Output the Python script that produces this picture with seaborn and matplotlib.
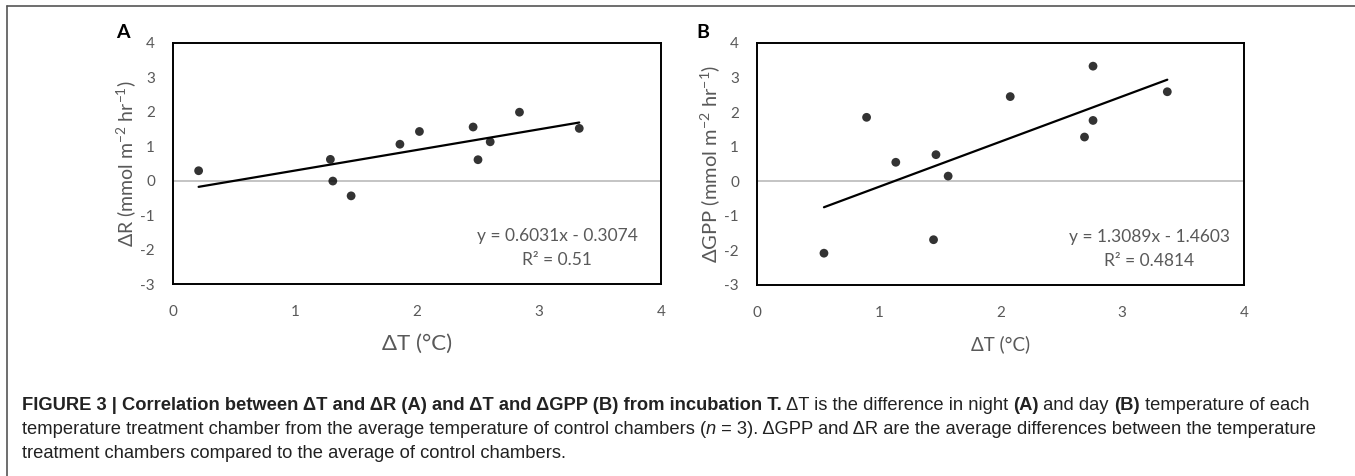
import numpy as np
import matplotlib
matplotlib.use("Agg")
import matplotlib.pyplot as plt
from matplotlib.lines import Line2D
import seaborn as sns

# panel A: dT (night) vs dR
dT_night = [0.21, 1.29, 1.31, 1.46, 1.86, 2.02, 2.46, 2.50, 2.60, 2.84, 3.33]
dR = [0.29, 0.62, -0.01, -0.44, 1.06, 1.43, 1.56, 0.61, 1.13, 1.99, 1.52]
eq_A = ["y = 0.6031x - 0.3074", "R² = 0.51"]

# panel B: dT (day) vs dGPP
dT_day = [0.55, 0.90, 1.14, 1.47, 1.45, 1.57, 2.08, 2.69, 2.76, 2.76, 3.37]
dGPP = [-2.08, 1.85, 0.55, 0.77, -1.69, 0.15, 2.45, 1.28, 1.76, 3.33, 2.59]
eq_B = ["y = 1.3089x - 1.4603", "R² = 0.4814"]

x_ticks = [0, 1, 2, 3, 4]
y_ticks = [-3, -2, -1, 0, 1, 2, 3, 4]

sns.set_theme(style="white")
plt.rcParams['font.family'] = ['Lato', 'DejaVu Sans']
plt.rcParams['mathtext.fontset'] = 'custom'
plt.rcParams['mathtext.rm'] = 'Lato'
plt.rcParams['mathtext.it'] = 'Lato:italic'
plt.rcParams['axes.unicode_minus'] = False

GREY = '#595959'

fig = plt.figure(figsize=(13.55, 4.76), dpi=100)
W, H = 1355, 476


def px_axes(x0, y0, x1, y1):
    return fig.add_axes([x0 / W, 1 - y1 / H, (x1 - x0) / W, (y1 - y0) / H])


axA = px_axes(173, 43, 661, 284)
axB = px_axes(757, 43, 1244, 285)

# ax, x, y, equation, ylabel, xlabel size, ylabel size, letter, letter x, eq centre (data)
panels = [
    (axA, dT_night, dR, eq_A, r'$\Delta$R (mmol m$^{-2}$ hr$^{-1}$)', 16, 14, 'A', 123, 3.15),
    (axB, dT_day, dGPP, eq_B, r'$\Delta$GPP (mmol m$^{-2}$ hr$^{-1}$)', 13.5, 14.5, 'B', 703, 3.22),
]

for ax, xs, ys, eq, ylab, xl_size, yl_size, letter, lx, eqx in panels:
    ax.axhline(0, color='#bfbfbf', lw=1.3, zorder=1)
    sns.regplot(x=xs, y=ys, ax=ax, ci=None, truncate=True,
                scatter_kws=dict(s=40, color='black', edgecolor='none', zorder=3),
                line_kws=dict(color='black', lw=1.6, zorder=2))
    ax.set_xlim(0, 4)
    ax.set_ylim(-3, 4)
    ax.set_xticks(x_ticks)
    ax.set_yticks(y_ticks)
    ax.tick_params(axis='both', length=0, labelsize=11, labelcolor=GREY)
    ax.tick_params(axis='x', pad=15)
    ax.tick_params(axis='y', pad=13)
    for sp in ax.spines.values():
        sp.set_color('black')
        sp.set_linewidth(1.4)
        sp.set_visible(True)
    ax.set_xlabel('ΔT (°C)', fontsize=xl_size, color=GREY, labelpad=11)
    ax.set_ylabel(ylab, fontsize=yl_size, color=GREY, labelpad=2)
    ax.text(eqx, -1.6, eq[0], ha='center', va='center', fontsize=12.5, color=GREY)
    ax.text(eqx, -2.3, eq[1], ha='center', va='center', fontsize=12.5, color=GREY)
    fig.text(lx / W, 1 - 32 / H, letter, ha='center', va='center',
             fontsize=14, fontweight='bold', color='black')

# frame lines (top and left)
fig.add_artist(Line2D([7 / W, 1], [1 - 6 / H, 1 - 6 / H], color='#555555', lw=1.2))
fig.add_artist(Line2D([7 / W, 7 / W], [0, 1 - 6 / H], color='#555555', lw=1.2))

# caption
cap_font = ['Liberation Sans Narrow', 'Liberation Sans', 'DejaVu Sans']
caption = [
    [("FIGURE 3 | Correlation between ΔT and ΔR (A) and ΔT and ΔGPP (B) from incubation T.", 'bold', 'normal'),
     (" ΔT is the difference in night ", 'normal', 'normal'),
     ("(A)", 'bold', 'normal'),
     (" and day ", 'normal', 'normal'),
     ("(B)", 'bold', 'normal'),
     (" temperature of each", 'normal', 'normal')],
    [("temperature treatment chamber from the average temperature of control chambers (", 'normal', 'normal'),
     ("n", 'normal', 'italic'),
     (" = 3). ΔGPP and ΔR are the average differences between the temperature", 'normal', 'normal')],
    [("treatment chambers compared to the average of control chambers.", 'normal', 'normal')],
]
line_y = [405, 429, 453]

fig.canvas.draw()
renderer = fig.canvas.get_renderer()
for segs, yy in zip(caption, line_y):
    x = 22
    for txt, weight, style in segs:
        t = fig.text(x / W, 1 - yy / H, txt, ha='left', va='center', fontsize=13.2,
                     fontweight=weight, fontstyle=style, family=cap_font, color='#222222')
        bb = t.get_window_extent(renderer=renderer)
        x += bb.width

fig.savefig('out.png', dpi=100)
